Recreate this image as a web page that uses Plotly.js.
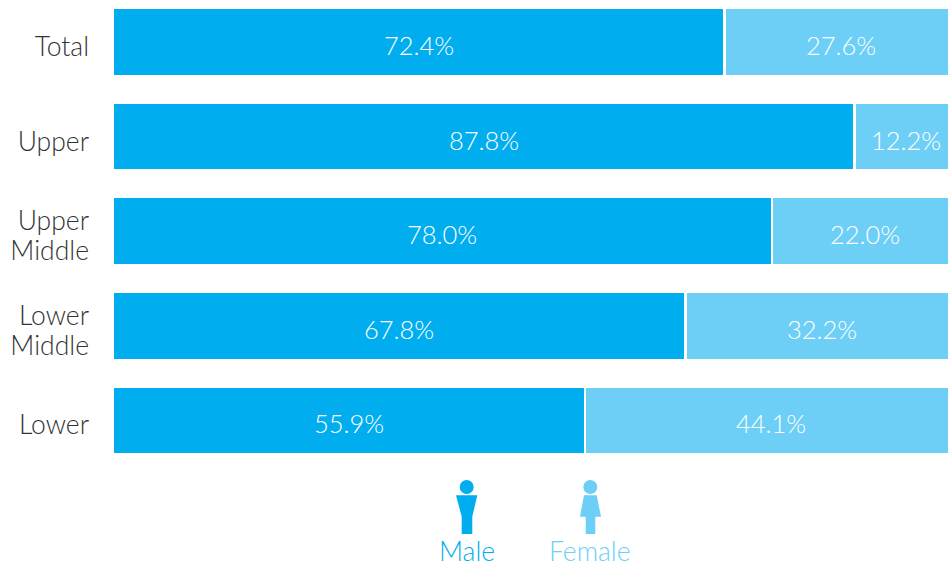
<!DOCTYPE html>
<html>
<head>
<meta charset="utf-8">
<script src="https://cdn.plot.ly/plotly-3.0.1.min.js"></script>
<style>html,body{margin:0;padding:0;background:#fff}#chart{width:948px;height:563px}</style>
</head>
<body>
<div id="chart"></div>
<script>
const categories = ["Total", "Upper", "Upper<br>Middle", "Lower<br>Middle", "Lower"];
const maleValues = [72.4, 87.8, 78.0, 67.8, 55.9];
const femaleValues = [27.6, 12.2, 22.0, 32.2, 44.1];
const seriesNames = ["Male", "Female"];
const maleColor = "#00aeef";
const femaleColor = "#6dcff6";
const W = 948, H = 563, L = 114;
const fontFamily = "Lato, 'Open Sans', sans-serif";

const px = x => (x - L) / (W - L);
const py = y => 1 - y / H;
const poly = pts => "M" + pts.map(p => px(p[0]) + "," + py(p[1])).join("L") + "Z";
const head = (cx, cy, r, color) => ({type: "circle", xref: "paper", yref: "paper",
  x0: px(cx - r), x1: px(cx + r), y0: py(cy + r), y1: py(cy - r),
  fillcolor: color, line: {width: 0}});
const body = (pts, color) => ({type: "path", xref: "paper", yref: "paper",
  path: poly(pts), fillcolor: color, line: {width: 0}});

const barTrace = (name, values, color) => ({
  type: "bar", orientation: "h", name: name, y: categories, x: values,
  marker: {color: color, line: {color: "#ffffff", width: 2.5}},
  hoverinfo: "skip"
});

const data = [barTrace(seriesNames[0], maleValues, maleColor),
              barTrace(seriesNames[1], femaleValues, femaleColor)];

const valueLabel = (cat, x, v) => ({
  text: v.toFixed(1) + "%", xref: "x", yref: "y", x: x, y: cat,
  xanchor: "center", yanchor: "middle", yshift: -3, showarrow: false,
  font: {family: fontFamily, size: 25.5, color: "#ffffff", weight: 300}
});
const valueLabels = categories.flatMap((c, i) => [
  valueLabel(c, maleValues[i] / 2, maleValues[i]),
  valueLabel(c, maleValues[i] + femaleValues[i] / 2, femaleValues[i])
]);

const tickText = categories.map(c => c.split("<br>")
  .map(s => '<span style="font-size:26.5px">' + s + "</span>").join("<br>"));

const layout = {
  width: W, height: H, showlegend: false,
  paper_bgcolor: "#ffffff", plot_bgcolor: "#ffffff",
  margin: {l: L, r: 0, t: 0, b: 0, pad: 0},
  barmode: "stack", bargap: 0.281,
  xaxis: {range: [0.15, 98.85], visible: false, fixedrange: true},
  yaxis: {type: "category", categoryorder: "array", categoryarray: categories,
    range: [5.507, -0.444], showgrid: false, zeroline: false, showline: false,
    tickmode: "array", tickvals: categories, ticktext: tickText,
    ticks: "", ticklabelstandoff: 24, ticklabelshift: -6, automargin: false,
    tickfont: {family: fontFamily, size: 23, color: "#333333", weight: 300}},
  shapes: [
    head(466.7, 487, 7, maleColor),
    body([[456,495.3],[477.3,495.3],[472.3,516.7],[472.3,534],[461.7,534],[461.7,516.7]], maleColor),
    head(590.3, 487, 7, femaleColor),
    body([[584,495.3],[596.7,495.3],[601,516.7],[595.3,516.7],[595.3,534],[585.7,534],[585.7,516.7],[580,516.7]], femaleColor)
  ],
  annotations: valueLabels.concat([
    {text: seriesNames[0], xref: "paper", yref: "paper", x: px(466.7), y: py(551), xanchor: "center", yanchor: "middle", showarrow: false,
     font: {family: fontFamily, size: 26.5, color: maleColor, weight: 300}},
    {text: seriesNames[1], xref: "paper", yref: "paper", x: px(590.3), y: py(551), xanchor: "center", yanchor: "middle", showarrow: false,
     font: {family: fontFamily, size: 26.5, color: femaleColor, weight: 300}}
  ])
};
Plotly.newPlot("chart", data, layout, {displayModeBar: false, staticPlot: true});
</script>
</body>
</html>
